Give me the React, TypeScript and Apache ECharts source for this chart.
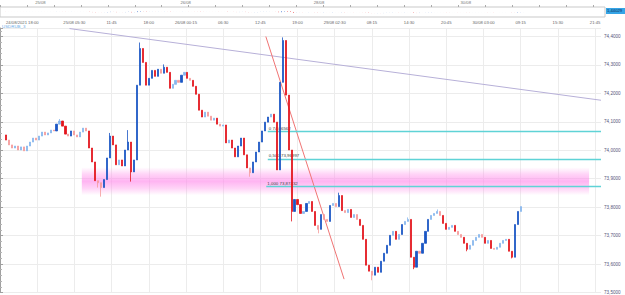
import React, { useEffect, useRef } from "react";
import * as echarts from "echarts";

// ---- data ----
const firstOpen = 74.054;
const closes = [
  74.036, 74.019, 74.008, 74.015, 74.001, 74.012, 73.998, 74.015, 74.029, 74.043,
  74.036, 74.050, 74.064, 74.054, 74.061, 74.071, 74.068, 74.092, 74.103, 74.085,
  74.057, 74.050, 74.068, 74.054, 74.047, 74.064, 74.078, 74.068, 74.008, 73.959,
  73.893, 73.886, 73.869, 73.897, 73.973, 74.050, 74.019, 73.949, 73.966, 73.945,
  74.001, 74.029, 73.924, 73.966, 74.229, 74.358, 74.309, 74.229, 74.253, 74.281,
  74.260, 74.285, 74.271, 74.292, 74.274, 74.218, 74.232, 74.246, 74.239, 74.264,
  74.274, 74.253, 74.246, 74.225, 74.197, 74.141, 74.117, 74.134, 74.120, 74.106,
  74.113, 74.092, 74.085, 74.089, 74.026, 74.036, 74.008, 73.977, 74.015, 74.043,
  73.984, 73.938, 73.921, 73.959, 73.994, 74.029, 74.068, 74.099, 74.117, 74.127,
  74.099, 73.931, 74.239, 74.386, 74.194, 74.001, 73.785, 73.827, 73.809, 73.778,
  73.785, 73.813, 73.820, 73.785, 73.736, 73.722, 73.774, 73.757, 73.750, 73.806,
  73.813, 73.802, 73.841, 73.788, 73.781, 73.792, 73.764, 73.774, 73.757, 73.736,
  73.687, 73.596, 73.575, 73.561, 73.589, 73.571, 73.610, 73.638, 73.666, 73.701,
  73.715, 73.687, 73.704, 73.739, 73.750, 73.757, 73.624, 73.589, 73.645, 73.638,
  73.673, 73.715, 73.757, 73.771, 73.778, 73.785, 73.771, 73.743, 73.722, 73.729,
  73.736, 73.715, 73.704, 73.694, 73.673, 73.652, 73.666, 73.683, 73.694, 73.704,
  73.694, 73.673, 73.683, 73.655, 73.652, 73.659, 73.673, 73.683, 73.687, 73.645,
  73.624, 73.739, 73.785, 73.802,
];
// [candle index, high]
const highWicks = [
  [18, 74.11], [35, 74.061], [41, 74.071], [45, 74.379], [53, 74.302],
  [93, 74.397], [112, 73.851], [135, 73.764], [145, 73.792],
];
// [candle index, low]
const lowWicks = [
  [31, 73.869], [32, 73.837], [42, 73.89], [82, 73.907], [96, 73.75],
  [105, 73.708], [123, 73.543], [137, 73.582], [155, 73.645], [170, 73.62],
];
const xTickLabels = [
  "24/08/2021 18:00", "", "25/08 05:30", "11:45", "18:00", "26/08 00:15",
  "06:30", "12:45", "19:00", "29/08 02:30", "08:15", "14:30", "20:45",
  "30/08 03:00", "09:15", "15:30", "21:45",
];
const navLabels = [
  [27, "25/08"], [124, "26/08"], [213, "28/08"], [311, "30/08"],
];
const levelPrices = [74.06562, 73.96997, 73.87432];
const levelNames = ["0 74,06562", "0,500 73,96997", "1,000 73,87432"];
const levelStart = [180, 180, 179];
const trendGrey = [[46.7, 74.428], [404, 74.176]];
const trendRed = [[178.7, 74.4], [231.3, 73.547]];
const bandRange = [[55, 73.94], [396, 73.842]];
const instrument = "USDRUB_3";
const navPrice = "1,44029";

const N = 405;
const STEP = 25;

const COLORS = {
  upDark: "#1a56c4",
  upLight: "#86b6ee",
  downDark: "#e3141c",
  downLight: "#f59a9a",
};

function buildCandles() {
  const hi: Record<number, number> = {};
  const lo: Record<number, number> = {};
  highWicks.forEach(([i, v]) => (hi[i] = v));
  lowWicks.forEach(([i, v]) => (lo[i] = v));
  const arr: any[] = new Array(N).fill("-");
  let prev = firstOpen;
  closes.forEach((c, i) => {
    const o = prev;
    const h = Math.max(o, c, hi[i] ?? -Infinity);
    const l = Math.min(o, c, lo[i] ?? Infinity);
    const up = c >= o;
    const big = Math.abs(c - o) > 0.018;
    const col = up ? (big ? COLORS.upDark : COLORS.upLight) : big ? COLORS.downDark : COLORS.downLight;
    arr[4 + 2 * i] = {
      value: [o, c, l, h],
      itemStyle: { color: col, color0: col, borderColor: col, borderColor0: col, borderWidth: 0.8 },
    };
    prev = c;
  });
  return arr;
}

export default function App() {
  const ref = useRef<HTMLDivElement>(null);
  useEffect(() => {
    if (!ref.current) return;
    const chart = echarts.init(ref.current, undefined, { renderer: "svg" });
    const cats = Array.from({ length: N }, (_, i) => String(i));
    const candles = buildCandles();
    const navMap: Record<number, string> = {};
    navLabels.forEach(([i, t]) => (navMap[i as number] = t as string));
    const font = "Liberation Sans";

    const bandGradient = new echarts.graphic.LinearGradient(0, 0, 0, 1, [
      { offset: 0, color: "rgba(255,150,235,0)" },
      { offset: 0.25, color: "rgba(255,150,235,0.42)" },
      { offset: 0.5, color: "rgba(255,140,235,0.65)" },
      { offset: 0.75, color: "rgba(255,150,235,0.42)" },
      { offset: 1, color: "rgba(255,150,235,0)" },
    ]);

    const option: any = {
      animation: false,
      backgroundColor: "#ffffff",
      title: {
        text: instrument,
        left: 2,
        top: 24,
        padding: 0,
        textStyle: { fontSize: 4.4, color: "#6aaae6", fontWeight: "normal", fontFamily: font },
      },
      grid: [
        { left: -5, right: 24, top: 28, bottom: 2 },
        { left: -5, right: 20, top: 7, height: 10, show: true, borderColor: "#c9c9c9", borderWidth: 1 },
      ],
      xAxis: [
        {
          type: "category",
          gridIndex: 0,
          data: cats,
          boundaryGap: false,
          position: "top",
          axisLine: { show: false },
          axisTick: { show: false },
          axisLabel: {
            interval: (i: number) => i % STEP === 0 && i / STEP < xTickLabels.length,
            formatter: (_v: string, i: number) => {
              const t = xTickLabels[i / STEP] ?? "";
              return i === 0 ? "{f|" + t + "}" : t;
            },
            rich: { f: { fontSize: 4.2, color: "#666", padding: [0, 0, 0, 6], fontFamily: font } },
            alignMinLabel: "left",
            fontSize: 4.2,
            color: "#666",
            margin: 4,
            fontFamily: font,
          },
          splitLine: {
            show: true,
            interval: (i: number) => i % STEP === 0,
            lineStyle: { color: "#ececec", width: 1 },
          },
        },
        {
          type: "category",
          gridIndex: 1,
          data: cats,
          boundaryGap: false,
          position: "top",
          axisLine: { show: false },
          axisTick: { show: true, interval: 17, length: 2, lineStyle: { color: "#aaa" } },
          axisLabel: {
            interval: (i: number) => navMap[i] !== undefined,
            formatter: (_v: string, i: number) => navMap[i] ?? "",
            fontSize: 4.2,
            color: "#777",
            margin: 3,
            fontFamily: font,
          },
          splitLine: { show: false },
        },
        { type: "value", gridIndex: 0, min: 0, max: 404, show: false },
      ],
      yAxis: [
        {
          type: "value",
          gridIndex: 0,
          position: "right",
          min: 73.5,
          max: 74.43,
          interval: 0.1,
          axisLine: { show: true, lineStyle: { color: "#a0a0a0" } },
          axisTick: { show: true, length: 3, lineStyle: { color: "#a0a0a0" } },
          minorTick: { show: true, splitNumber: 5, length: 2, lineStyle: { color: "#b4b4b4" } },
          axisLabel: {
            fontSize: 4.6,
            color: "#55557a",
            margin: 3,
            showMaxLabel: false,
            fontFamily: font,
            formatter: (v: number) => v.toFixed(4).replace(".", ","),
          },
          splitLine: { show: true, lineStyle: { color: "#ececec" } },
        },
        { type: "value", gridIndex: 1, min: 72, max: 76, show: false },
      ],
      series: [
        {
          type: "line",
          xAxisIndex: 2,
          yAxisIndex: 0,
          data: [],
          z: 2,
          markLine: {
            silent: true,
            symbol: ["none", "none"],
            lineStyle: { color: "#5fd3d6", width: 1.4, type: "solid", opacity: 1 },
            label: {
              show: true,
              position: "insideStartTop",
              formatter: "{b}",
              fontSize: 4.4,
              color: "#444",
              distance: 1,
              fontFamily: font,
            },
            data: levelPrices.map((p, k) => [
              { coord: [levelStart[k], p], name: levelNames[k] },
              { coord: [404, p] },
            ]),
          },
        },
        {
          type: "line",
          xAxisIndex: 2,
          yAxisIndex: 0,
          data: [],
          z: 3,
          markArea: {
            silent: true,
            itemStyle: { color: bandGradient },
            data: [[{ coord: bandRange[0] }, { coord: bandRange[1] }]],
          },
        },
        {
          type: "line",
          xAxisIndex: 2,
          yAxisIndex: 0,
          data: trendGrey,
          symbol: "none",
          z: 4,
          lineStyle: { color: "#b7b0d8", width: 1 },
        },
        {
          type: "line",
          xAxisIndex: 2,
          yAxisIndex: 0,
          data: trendRed,
          symbol: "none",
          z: 4,
          lineStyle: { color: "#f07474", width: 1 },
        },
        {
          type: "candlestick",
          xAxisIndex: 0,
          yAxisIndex: 0,
          barWidth: 1.6,
          z: 5,
          data: candles,
        },
        {
          type: "candlestick",
          xAxisIndex: 1,
          yAxisIndex: 1,
          barWidth: 1,
          data: candles,
        },
      ],
      graphic: [
        { type: "rect", shape: { x: 606, y: 8, width: 19, height: 6 }, style: { fill: "#35a4e6" } },
        {
          type: "text",
          x: 607,
          y: 8.5,
          style: { text: navPrice, fontSize: 4.2, fill: "#0d2c55", fontFamily: font },
        },
      ],
    };
    chart.setOption(option);
    return () => chart.dispose();
  }, []);
  return (
    <div
      ref={ref}
      style={{ position: "fixed", left: 0, top: 0, width: 625, height: 295, background: "#fff" }}
    />
  );
}
